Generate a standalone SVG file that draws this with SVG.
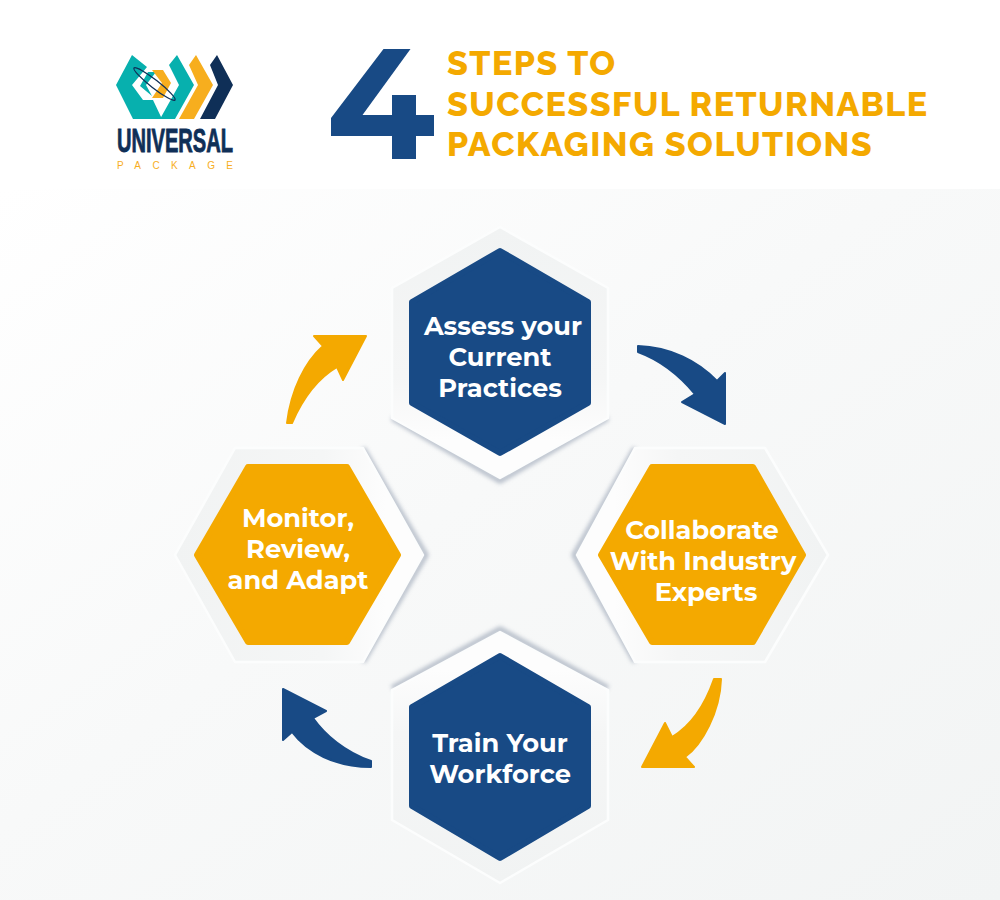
<svg xmlns="http://www.w3.org/2000/svg" width="1000" height="900" viewBox="0 0 1000 900">
<style>
.t{font-family:"Montserrat","Inter","Noto Sans","Liberation Sans",sans-serif;font-weight:700;font-size:25.7px;fill:#fff;text-anchor:middle}
.h{font-family:"Raleway","Inter","Noto Sans","Liberation Sans",sans-serif;font-weight:800;font-size:34px;letter-spacing:1.45px;fill:#f4a900}
.blue{fill:#184a85;stroke:#184a85}
.org{fill:#f4a900;stroke:#f4a900}
.inner{stroke-width:6;stroke-linejoin:round}
.rim{stroke:#fcfdfd;stroke-width:2.500;stroke-linejoin:round}
.sh{fill:none;stroke:#9aa4b5;stroke-width:5;stroke-linejoin:round;filter:url(#blur);opacity:.7}
</style>
<defs>
<linearGradient id="bg" x1="0" y1="0" x2="1" y2="1"><stop offset="0" stop-color="#ffffff"/><stop offset=".45" stop-color="#f8f9f9"/><stop offset="1" stop-color="#f2f4f4"/></linearGradient>
<linearGradient id="topG" x1="0" y1="0" x2="0" y2="1"><stop offset="0" stop-color="#f1f3f3"/><stop offset=".6" stop-color="#f5f6f6"/><stop offset=".85" stop-color="#fdfdfd"/></linearGradient>
<linearGradient id="botG" x1="0" y1="1" x2="0" y2="0"><stop offset="0" stop-color="#f1f3f3"/><stop offset=".6" stop-color="#f5f6f6"/><stop offset=".85" stop-color="#fdfdfd"/></linearGradient>
<linearGradient id="leftG" x1="0" y1="0" x2="1" y2="0"><stop offset="0" stop-color="#f1f3f3"/><stop offset=".6" stop-color="#f5f6f6"/><stop offset=".85" stop-color="#fdfdfd"/></linearGradient>
<linearGradient id="rightG" x1="1" y1="0" x2="0" y2="0"><stop offset="0" stop-color="#f1f3f3"/><stop offset=".6" stop-color="#f5f6f6"/><stop offset=".85" stop-color="#fdfdfd"/></linearGradient>
<filter id="blur" x="-20%" y="-20%" width="140%" height="140%"><feGaussianBlur stdDeviation="2.2"/></filter>
</defs>
<rect width="1000" height="900" fill="#fff"/>
<rect y="189" width="1000" height="711" fill="url(#bg)"/>
<g id="logo">
<path fill="#07b0ae" d="M132 55 L116 85 L133 119 L162 119 L153 100 L143 100 L132 85 L147 67 Z"/>
<path fill="#07b0ae" d="M177 55 L169 65 L179 85 L160 119 L175 119 L194 85 Z"/>
<path fill="#07b0ae" d="M148 72 L156 72 L146 85 L152 96 L140 86 Z"/>
<path fill="#f7ae1e" d="M152 70 L163 70 L171 83 L163 98 L152 98 L162 83 Z"/>
<path fill="#f7ae1e" d="M196 55 L213 85 L194 119 L179 119 L198 85 L189 65 Z"/>
<path fill="#0f2f57" d="M217 55 L233 85 L215 119 L200 119 L218 85 L210 65 Z"/>
<ellipse cx="154.500" cy="84" rx="26" ry="4" fill="none" stroke="#0f2f57" stroke-width="1.300" transform="rotate(38 154.500 84)"/>
<text x="175" y="152" text-anchor="middle" font-family="Liberation Sans,sans-serif" font-weight="700" font-size="34" fill="#0f2f57" stroke="#0f2f57" stroke-width=".9" textLength="116" lengthAdjust="spacingAndGlyphs">UNIVERSAL</text>
<text x="175" y="168.500" text-anchor="middle" font-family="Liberation Sans,sans-serif" font-size="10" fill="#f7ae1e" textLength="116">PACKAGE</text>
</g>
<g id="title">
<path fill="#184a85" d="M383.500 49 L410.500 49 L362.500 115 L392 115 L392 95 L416 95 L416 115 L434 115 L434 136 L416 136 L416 159 L392 159 L392 136 L331 136 L331 118 Z"/>
<text class="h" x="447" y="75">STEPS TO</text>
<text class="h" x="447" y="116">SUCCESSFUL RETURNABLE</text>
<text class="h" x="447" y="156">PACKAGING SOLUTIONS</text>
</g>
<g id="node-train">
<path class="sh" d="M392 688 L500 629 L608 688"/>
<polygon class="rim" fill="url(#botG)" points="500,632 608,690 608,820 500,883 392,820 392,690"/>
<polygon class="blue inner" points="500,656 588,707 588,806 500,858 412,806 412,707"/>
<text class="t" x="500" y="752">Train Your</text><text class="t" x="500" y="783">Workforce</text>
</g>
<g id="node-monitor">
<path class="sh" d="M363 448 L426 555 L363 662"/>
<polygon class="rim" fill="url(#leftG)" points="175,555 235,448 363,448 423,555 363,662 235,662"/>
<polygon class="org inner" points="197,555 248,467 347,467 398,555 347,642 248,642"/>
<text class="t" x="298" y="527">Monitor,</text><text class="t" x="298" y="558">Review,</text><text class="t" x="298" y="589">and Adapt</text>
</g>
<g id="node-collaborate">
<path class="sh" d="M635 448 L574 555 L635 662"/>
<polygon class="rim" fill="url(#rightG)" points="577,555 635,448 765,448 828,555 765,662 635,662"/>
<polygon class="org inner" points="601,555 652,467 753,467 803,555 753,642 652,642"/>
<text class="t" x="702" y="539">Collaborate</text><text class="t" x="703" y="570">With Industry</text><text class="t" x="706" y="601">Experts</text>
</g>
<g id="node-assess">
<path class="sh" d="M392 418 L500 481 L608 418"/>
<polygon class="rim" fill="url(#topG)" points="500,227 608,288 608,418 500,478 392,418 392,288"/>
<polygon class="blue inner" points="500,251 588,302 588,403 500,453 412,403 412,302"/>
<text class="t" x="503" y="335">Assess your</text><text class="t" x="500" y="366">Current</text><text class="t" x="500" y="397">Practices</text>
</g>
<g id="connectors" stroke-linejoin="round" stroke-width="2">
<path class="org" d="M287 423 C291 390 305 362 323 346 L314 336 L366 336 L343 380 L337 367 C315 380 302 400 292 423 Z"/>
<path class="blue" d="M638 346 C670 347 698 361 717 381 L725 373 L725 424 L682 402 L695 394 C680 376 660 360 638 352 Z"/>
<path class="org" d="M721 679 C720 712 702 745 685 757 L694 767 L642 767 L665 723 L672 737 C692 725 705 705 714 679 Z"/>
<path class="blue" d="M371 767 C335 767 307 752 292 732 L283 740 L283 689 L326 711 L313 718 C325 735 345 752 371 761 Z"/>
</g>
</svg>
